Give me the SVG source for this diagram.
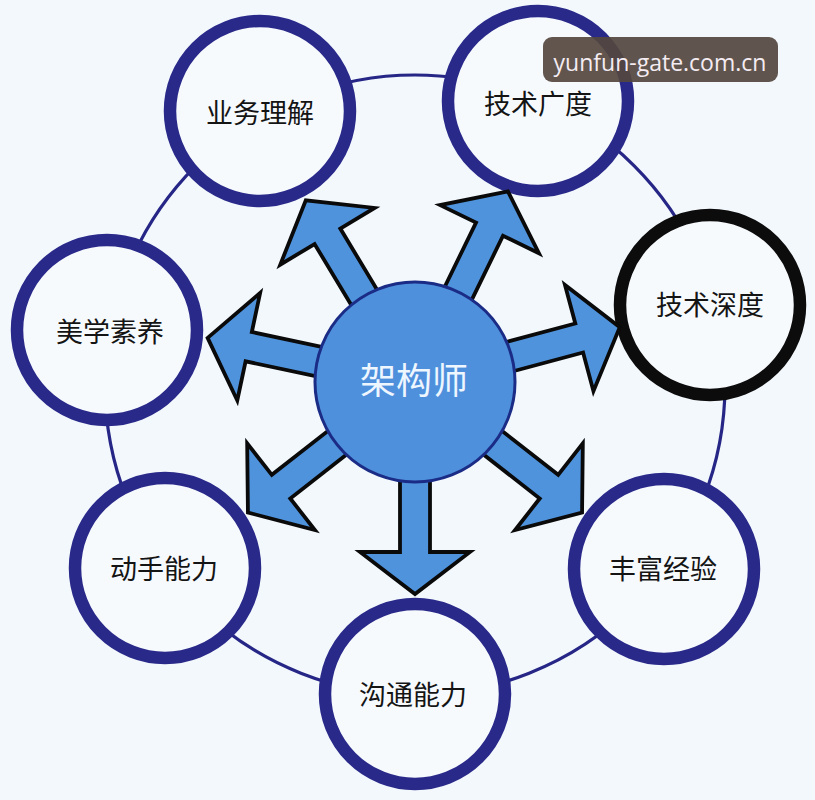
<svg xmlns="http://www.w3.org/2000/svg" width="815" height="800" viewBox="0 0 815 800">
  <style>
    .node { fill: #f7fafd; stroke: #29298a; stroke-width: 12.5; }
    .node.dark { stroke: #0c0c0c; }
    .label { font-family: "Noto Sans CJK SC", "Noto Sans", sans-serif; font-size: 27px; fill: #141414; text-anchor: middle; dominant-baseline: central; }
    .arrow { fill: #4f93dc; stroke: #0a0a0a; stroke-width: 3.8; stroke-linejoin: miter; }
    .ring { fill: none; stroke: #262686; stroke-width: 3.2; }
  </style>
  <defs>
    <polygon id="arrowShape" points="60,-15 170,-15 170,-55 212,0 170,55 170,15 60,15"/>
  </defs>
  <rect x="0" y="0" width="815" height="800" fill="#f3f8fc"/>

  <circle class="ring" cx="415" cy="385" r="310"/>

  <g id="node-yewu"><circle class="node" cx="260" cy="111" r="90"/><text class="label" x="260" y="111">业务理解</text></g>
  <g id="node-guangdu"><circle class="node" cx="538" cy="101" r="90"/><text class="label" x="538" y="102">技术广度</text></g>
  <g id="node-shendu"><circle class="node dark" cx="710" cy="305" r="90"/><text class="label" x="710" y="303">技术深度</text></g>
  <g id="node-meixue"><circle class="node" cx="107" cy="330" r="90"/><text class="label" x="110" y="330">美学素养</text></g>
  <g id="node-dongshou"><circle class="node" cx="165" cy="568" r="90"/><text class="label" x="164" y="567">动手能力</text></g>
  <g id="node-goutong"><circle class="node" cx="415" cy="694" r="90"/><text class="label" x="413" y="693">沟通能力</text></g>
  <g id="node-fengfu"><circle class="node" cx="664" cy="569" r="90"/><text class="label" x="663" y="567">丰富经验</text></g>

  <g id="connectors">
    <use href="#arrowShape" class="arrow" transform="translate(415,382) rotate(-121)"/>
    <use href="#arrowShape" class="arrow" transform="translate(415,382) rotate(-64)"/>
    <use href="#arrowShape" class="arrow" transform="translate(415,382) rotate(-15)"/>
    <use href="#arrowShape" class="arrow" transform="translate(415,382) rotate(38)"/>
    <use href="#arrowShape" class="arrow" transform="translate(415,382) rotate(90)"/>
    <use href="#arrowShape" class="arrow" transform="translate(415,382) rotate(142)"/>
    <use href="#arrowShape" class="arrow" transform="translate(415,382) rotate(192)"/>
  </g>

  <g id="node-center">
    <circle cx="415" cy="382" r="100" fill="#4e90dc" stroke="#1b2c86" stroke-width="3"/>
    <text x="414" y="378" font-family="Noto Sans CJK SC, Noto Sans, sans-serif" font-size="36" fill="#eef6ff" text-anchor="middle" dominant-baseline="central">架构师</text>
  </g>

  <g id="watermark">
    <rect x="543" y="37" width="235" height="45" rx="9" fill="#54463f" fill-opacity="0.92"/>
    <text x="660" y="71" font-family="Open Sans, DejaVu Sans, sans-serif" font-size="23" fill="#f4ecf2" text-anchor="middle">yunfun-gate.com.cn</text>
  </g>
</svg>
